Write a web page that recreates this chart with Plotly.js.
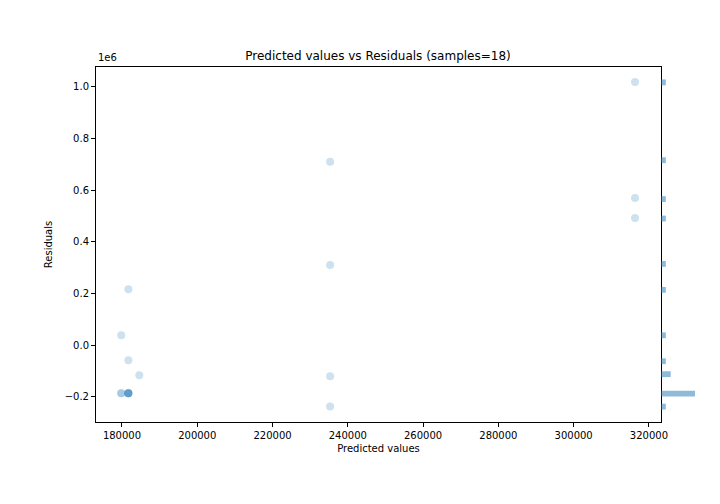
<!DOCTYPE html>
<html>
<head>
<meta charset="utf-8">
<script src="https://cdn.plot.ly/plotly-3.0.1.min.js"></script>
<style>body{margin:0}#chart{width:720px;height:504px}</style>
</head>
<body>
<div id="chart"></div>
<script>
// predicted values and residuals
const predicted = [316300, 235300, 316300, 316300, 235300, 181700, 179800, 181700, 184600,
                   235300, 179800, 179800, 181700, 181700, 181700, 181700, 181700, 235300];
const residuals = [1019000, 710000, 570000, 493000, 311000, 217000, 39000, -58000, -116000,
                   -120000, -186000, -186000, -186000, -186000, -186000, -186000, -186000, -237000];
const yTicks = [-200000, 0, 200000, 400000, 600000, 800000, 1000000];
const yTickText = ['−0.2', '0.0', '0.2', '0.4', '0.6', '0.8', '1.0'];
const xTicks = [180000, 200000, 220000, 240000, 260000, 280000, 300000, 320000];

const blue = '#1f77b4';

Plotly.newPlot('chart', [{
    x: predicted, y: residuals,
    type: 'scatter', mode: 'markers',
    marker: {color: blue, opacity: 0.22, size: 8},
    xaxis: 'x', yaxis: 'y', hoverinfo: 'x+y'
}, {
    y: residuals,
    type: 'histogram', orientation: 'h',
    ybins: {start: -250000, end: 1030000, size: 25100},
    marker: {color: blue, opacity: 0.5},
    xaxis: 'x2', yaxis: 'y'
}], {
    width: 720, height: 504,
    font: {family: 'DejaVu Sans', size: 10, color: '#000'},
    paper_bgcolor: '#fff', plot_bgcolor: 'rgba(0,0,0,0)',
    showlegend: false,
    bargap: 0.1,
    margin: {l: 96, r: 0, t: 67, b: 82},
    title: {text: 'Predicted values vs Residuals (samples=18)', font: {size: 12},
            x: 378 / 720, xanchor: 'center', y: 1 - 56 / 504, yanchor: 'middle'},
    xaxis: {
        domain: [0, 0.9054], range: [173100, 323200],
        tickvals: xTicks, tickformat: 'd', ticks: 'outside', ticklen: 4, tickcolor: '#000',
        showgrid: false, zeroline: false,
        showline: true, mirror: true, linecolor: '#000', linewidth: 1,
        title: {text: 'Predicted values', standoff: 4, font: {size: 10}}
    },
    yaxis: {
        range: [-297000, 1077000],
        tickvals: yTicks, ticktext: yTickText, ticks: 'outside', ticklen: 4, tickcolor: '#000',
        showgrid: false, zeroline: false,
        showline: true, mirror: true, linecolor: '#000', linewidth: 1,
        title: {text: 'Residuals', standoff: 10, font: {size: 10}}
    },
    xaxis2: {
        domain: [0.9054, 0.96], range: [0, 7], anchor: 'y',
        visible: false, showgrid: false, zeroline: false
    },
    annotations: [{
        text: '1e6', xref: 'paper', yref: 'paper', x: 0, y: 1,
        xanchor: 'left', yanchor: 'bottom', showarrow: false, yshift: 2
    }]
}, {staticPlot: true});
</script>
</body>
</html>
